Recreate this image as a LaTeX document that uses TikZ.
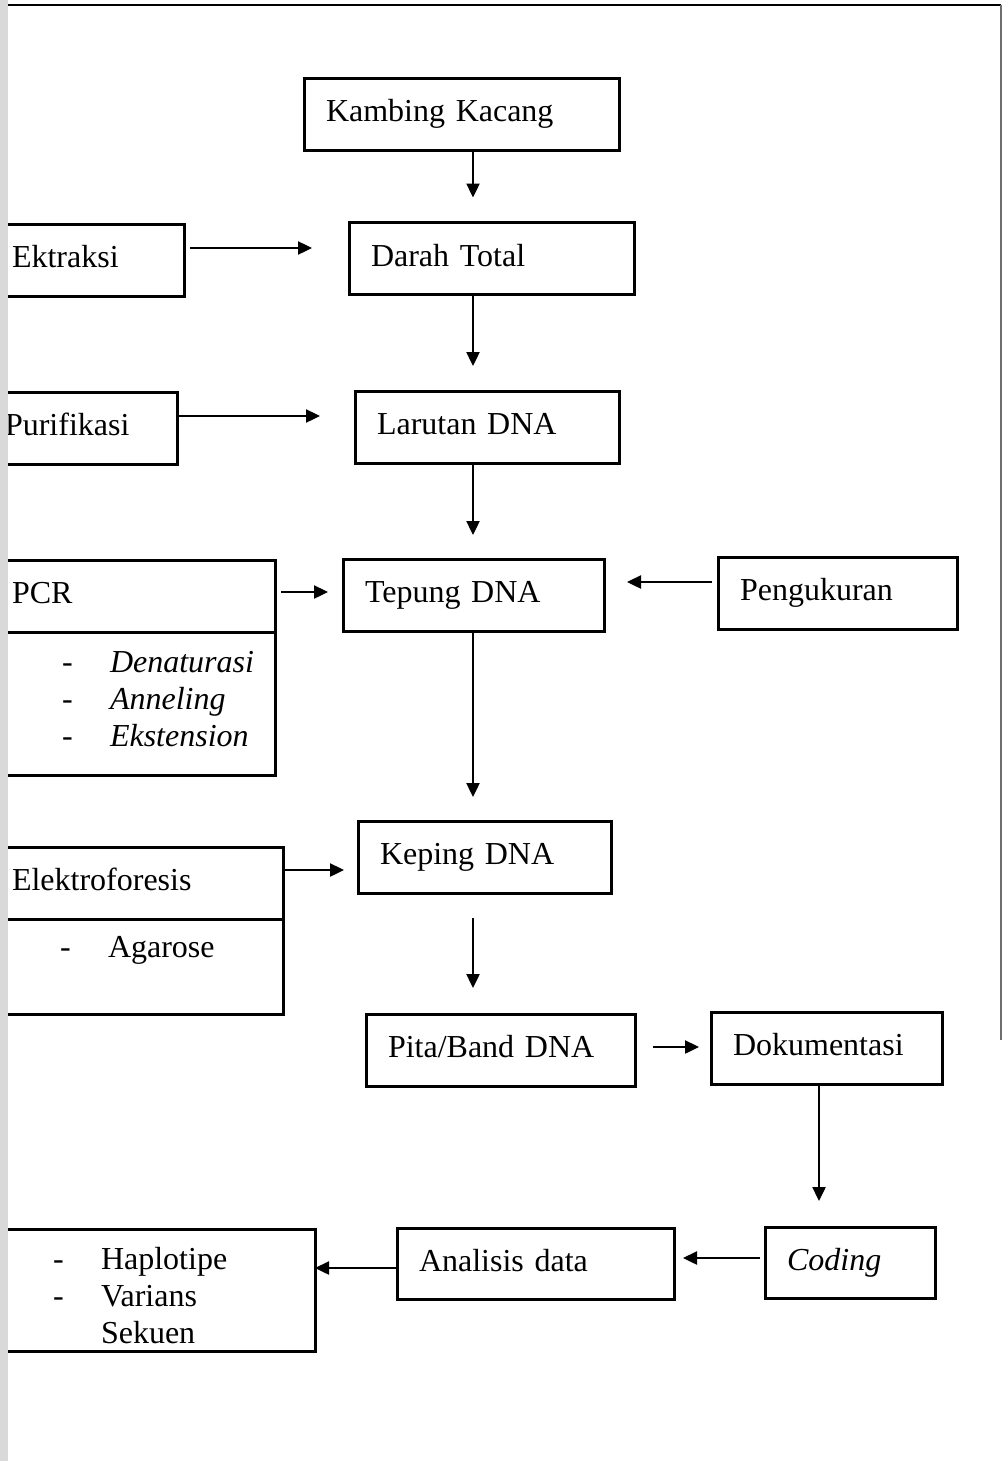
\documentclass[tikz,border=0pt]{standalone}
\usepackage{fontspec}
\setmainfont{Liberation Serif}
\usepackage{tikz}
\usetikzlibrary{shapes,arrows.meta}
\definecolor{scan_gray}{RGB}{217, 217, 217}
\definecolor{rule_gray}{RGB}{110, 110, 110}
\tikzstyle{box}=[rectangle,draw=black,line width=1.5pt,inner xsep=11pt,inner ysep=0pt,outer sep=0pt,
  text height=11pt,text depth=3.5pt,align=left,minimum height=36pt]
\tikzstyle{listbox}=[rectangle,draw=black,line width=1.5pt,inner xsep=11pt,inner ysep=0pt,outer sep=0pt,
  align=left]
\tikzstyle{arr}=[-{Triangle[length=7pt,width=6.5pt]},line width=1.2pt]
\newcommand{\dashline}[2][24pt]{\hspace*{#1}\makebox[24pt][l]{-}#2}
\begin{document}
\begin{tikzpicture}[x=0.5pt,y=-0.5pt,font=\fontsize{16}{18.5}\selectfont]
        \useasboundingbox (0,0) rectangle (1003,1461);
        \coordinate (spine) at (473,0);
        \coordinate (side) at (819,0);
        \node [style=box,text width=135.5pt] (kambing) at (461.5,114.5) {Kambing Kacang};
        \node [style=box,text width=120.5pt] (darah) at (491.5,258.5) {Darah Total};
        \node [style=box,text width=75pt] (ektraksi) at (87,260) {Ektraksi};
        \node [style=box,text width=75pt] (purifikasi) at (80,428) {Purifikasi};
        \node [style=box,text width=110pt] (larutan) at (487,427) {Larutan DNA};
        \node [style=box,text width=108.5pt] (tepung) at (473.5,595) {Tepung DNA};
        \node [style=box,text width=97.5pt] (pengukuran) at (837.5,593) {Pengukuran};
        \node [style=box,text width=120.5pt] (pcr) at (132.5,596) {PCR};
        \node [style=listbox,text width=120.5pt,text height=12pt,text depth=43pt,minimum height=71.5pt,anchor=north] (pcrlist) at (pcr.south)
          {\dashline[25pt]{\textit{Denaturasi}}\\ \dashline[25pt]{\textit{Anneling}}\\ \dashline[25pt]{\textit{Ekstension}}};
        \node [style=box,text width=104.5pt] (keping) at (484.5,857) {Keping DNA};
        \node [style=box,text width=124.5pt] (elektro) at (136.5,883) {Elektroforesis};
        \node [style=listbox,text width=124.5pt,text height=19pt,text depth=28.5pt,anchor=north] (elektrolist) at (elektro.south)
          {\dashline{Agarose}};
        \node [style=box,text width=112.5pt] (pita) at (500.5,1050) {Pita/Band DNA};
        \node [style=box,text width=93.5pt] (dokumentasi) at (826.5,1048) {Dokumentasi};
        \node [style=box,text width=63pt,minimum height=35.5pt] (coding) at (850,1262.5) {\textit{Coding}};
        \node [style=box,text width=116.5pt,minimum height=35.5pt] (analisis) at (535.5,1263.5) {Analisis data};
        \node [style=listbox,text width=140.5pt,text height=12pt,text depth=32.5pt,minimum height=61pt] (hasil) at (152.5,1290)
          {\dashline[20.5pt]{Haplotipe}\\ \dashline[20.5pt]{Varians}\\ \hspace*{44.5pt}Sekuen};
        \draw [style=arr,shorten >=12.5pt] (kambing.south -| spine) to (darah.north -| spine);
        \draw [style=arr,shorten >=12.5pt] (darah.south -| spine) to (larutan.north -| spine);
        \draw [style=arr,shorten >=12pt] (larutan.south -| spine) to (tepung.north -| spine);
        \draw [style=arr,shorten >=12pt] (tepung.south -| spine) to (keping.north -| spine);
        \draw [style=arr,shorten <=12.5pt,shorten >=13pt] (keping.south -| spine) to (pita.north -| spine);
        \draw [style=arr,shorten >=13pt] (dokumentasi.south -| side) to (coding.north -| side);
        \draw [style=arr,shorten <=3pt,shorten >=18.5pt] ([yshift=6pt]ektraksi.east) to ([yshift=6pt]ektraksi.east -| darah.west);
        \draw [style=arr,shorten >=17.5pt] ([yshift=6pt]purifikasi.east) to ([yshift=6pt]purifikasi.east -| larutan.west);
        \draw [style=arr,shorten <=3pt,shorten >=7.5pt] ([yshift=2pt]pcr.east) to ([yshift=2pt]pcr.east -| tepung.west);
        \draw [style=arr,shorten <=3pt,shorten >=11.5pt] ([yshift=5.5pt]pengukuran.west) to ([yshift=5.5pt]pengukuran.west -| tepung.east);
        \draw [style=arr,shorten >=7pt] ([yshift=6.5pt]elektro.east) to ([yshift=6.5pt]elektro.east -| keping.west);
        \draw [style=arr,shorten <=9pt,shorten >=6pt] ([yshift=1.5pt]pita.east) to ([yshift=1.5pt]pita.east -| dokumentasi.west);
        \draw [style=arr,shorten <=2.5pt,shorten >=4.5pt] ([yshift=2.25pt]coding.west) to ([yshift=2.25pt]coding.west -| analisis.east);
        \draw [style=arr] ([yshift=-2.25pt]analisis.west) to ([yshift=-2.25pt]analisis.west -| hasil.east);
        \fill [scan_gray] (0,0) rectangle (8,1461);
        \draw [line width=1.2pt] (8,5) to (1001,5);
        \draw [rule_gray,line width=0.6pt] (1001,5) to (1001,1040);
    \end{tikzpicture}
\end{document}
